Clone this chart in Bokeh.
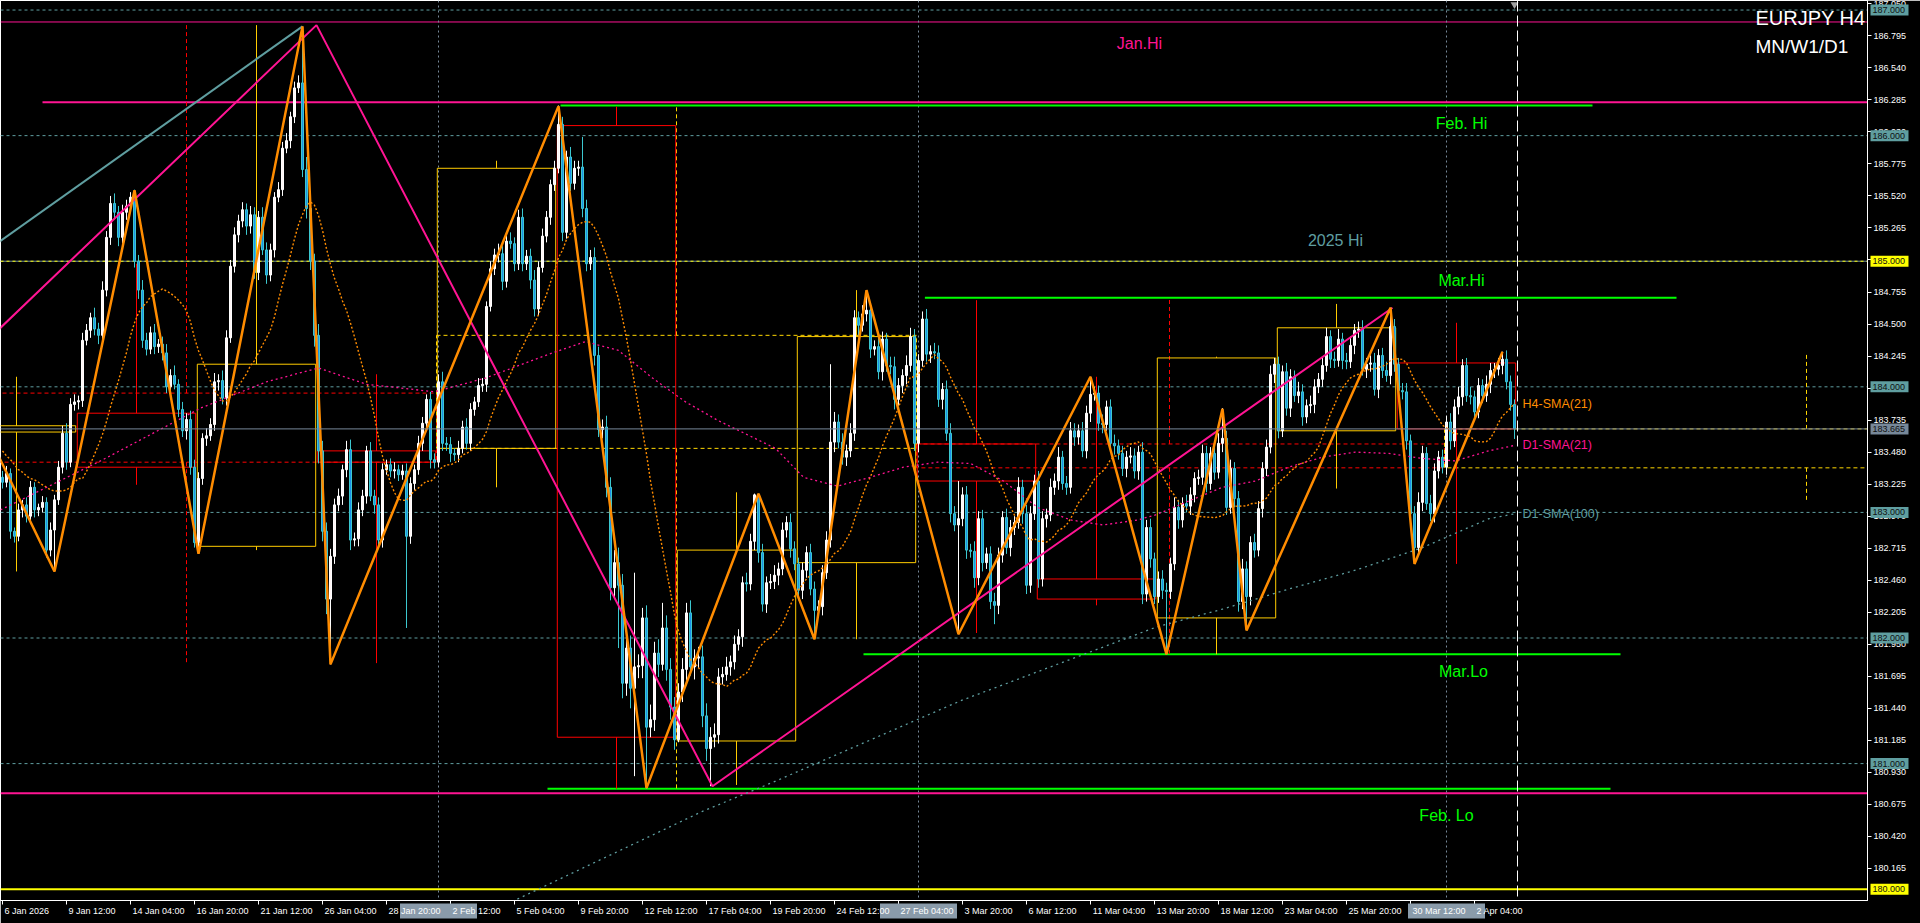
import numpy as np
from bokeh.plotting import figure
from bokeh.models import Range1d, FixedTicker, Label, Span, LinearAxis
from bokeh.core.properties import value
from bokeh.embed import file_html
from bokeh.resources import INLINE

FONT = "Liberation Sans"

# ---------------- H4 candles (bar index 0 .. 378) ----------------
first_open = 183.28
closes = [
    183.24, 183.31, 182.85, 182.81, 183.02, 183.06, 182.97, 183.20, 183.02, 183.04,
    183.08, 182.70, 182.86, 183.10, 183.36, 183.63, 183.40, 183.86, 183.88, 183.89,
    184.37, 184.45, 184.55, 184.46, 184.41, 184.77, 185.19, 185.46, 185.39, 185.19,
    185.39, 185.44, 185.51, 185.00, 184.77, 184.37, 184.30, 184.43, 184.32, 184.34,
    184.27, 184.00, 184.09, 184.02, 183.82, 183.65, 183.74, 183.36, 182.76, 183.27,
    183.59, 183.61, 183.70, 184.04, 184.05, 183.91, 184.39, 184.96, 185.21, 185.32,
    185.41, 185.28, 185.37, 184.91, 185.35, 185.09, 184.89, 185.09, 185.51, 185.57,
    185.90, 185.96, 186.15, 186.38, 186.42, 185.73, 185.42, 185.00, 184.41, 183.49,
    182.85, 182.31, 182.65, 183.06, 183.13, 183.34, 183.50, 182.78, 182.79, 183.02,
    183.13, 183.49, 183.13, 183.06, 182.78, 183.34, 183.38, 183.33, 183.34, 183.30,
    183.33, 182.81, 183.23, 183.34, 183.55, 183.71, 183.90, 183.42, 183.40, 184.04,
    183.55, 183.54, 183.47, 183.46, 183.51, 183.68, 183.55, 183.82, 183.88, 184.01,
    184.02, 184.64, 184.94, 185.05, 185.06, 184.84, 185.16, 185.14, 184.98, 185.35,
    184.98, 185.04, 184.85, 184.62, 184.95, 185.20, 185.35, 185.61, 185.74, 186.09,
    185.23, 185.83, 185.62, 185.74, 185.75, 185.42, 184.98, 185.03, 184.25, 183.66,
    183.68, 183.20, 182.40, 182.60, 182.42, 181.64, 181.92, 181.60, 181.77, 181.78,
    182.16, 181.29, 181.35, 181.88, 181.79, 182.08, 181.75, 181.45, 181.19, 181.57,
    181.75, 182.20, 181.77, 181.84, 181.85, 181.38, 181.12, 181.21, 181.23, 181.69,
    181.71, 181.77, 181.81, 181.95, 182.01, 182.44, 182.43, 182.77, 183.14, 182.68,
    182.27, 182.44, 182.45, 182.50, 182.55, 182.86, 182.92, 182.71, 182.59, 182.38,
    182.54, 182.68, 182.39, 182.22, 182.25, 182.52, 182.78, 183.56, 183.72, 183.56,
    183.44, 183.49, 183.63, 184.55, 184.49, 184.58, 184.61, 184.30, 184.32, 184.12,
    184.38, 184.17, 184.16, 183.90, 184.01, 184.09, 184.17, 184.40, 183.55, 184.21,
    184.54, 184.26, 184.28, 184.27, 183.90, 183.98, 183.63, 182.99, 182.90, 182.95,
    183.14, 182.70, 182.69, 182.48, 182.95, 182.60, 182.67, 182.29, 182.26, 182.66,
    182.96, 182.72, 182.88, 182.92, 183.20, 182.99, 182.42, 182.99, 183.25, 182.47,
    182.95, 182.98, 183.20, 183.25, 183.44, 183.23, 183.20, 183.65, 183.60, 183.65,
    183.49, 183.79, 183.94, 183.95, 183.71, 183.70, 183.84, 183.55, 183.53, 183.47,
    183.35, 183.44, 183.45, 183.33, 183.48, 182.35, 182.88, 182.63, 182.33, 182.47,
    182.38, 182.37, 182.59, 183.04, 182.94, 183.07, 183.05, 183.14, 183.27, 183.28,
    183.47, 183.23, 183.47, 183.32, 183.55, 183.59, 183.04, 183.35, 183.11, 182.29,
    182.55, 182.33, 182.76, 182.70, 183.03, 183.35, 183.52, 184.10, 184.18, 183.65,
    184.12, 183.83, 184.08, 183.93, 183.96, 183.76, 183.85, 183.86, 184.00, 184.06,
    184.17, 184.40, 184.22, 184.21, 184.38, 184.21, 184.20, 184.33, 184.45, 184.46,
    184.14, 184.18, 184.19, 183.98, 184.25, 184.13, 184.09, 184.48, 184.18, 183.97,
    183.96, 183.57, 182.99, 182.72, 183.08, 183.47, 183.07, 182.99, 183.33, 183.44,
    183.36, 183.72, 183.57, 183.84, 183.92, 184.17, 183.93, 183.92, 183.80, 184.01,
    183.93, 184.02, 184.13, 184.14, 184.17, 184.22, 184.04, 183.86, 183.665,
]
# upper / lower shadow lengths (price units) read per bar
wick_up = [
    0.05, 0.06, 0.04, 0.03, 0.05, 0.04, 0.06, 0.05, 0.04, 0.03,
    0.05, 0.04, 0.06, 0.04, 0.05, 0.06, 0.08, 0.05, 0.06, 0.04,
    0.06, 0.05, 0.04, 0.08, 0.05, 0.07, 0.05, 0.06, 0.08, 0.05,
    0.06, 0.05, 0.04, 0.06, 0.05, 0.08, 0.06, 0.05, 0.07, 0.04,
    0.06, 0.07, 0.05, 0.08, 0.04, 0.06, 0.05, 0.07, 0.06, 0.05,
    0.04, 0.06, 0.05, 0.07, 0.05, 0.08, 0.06, 0.05, 0.06, 0.05,
    0.06, 0.05, 0.07, 0.06, 0.05, 0.08, 0.06, 0.05, 0.04, 0.06,
    0.05, 0.06, 0.04, 0.05, 0.06, 0.45, 0.10, 0.08, 0.06, 0.09,
    0.08, 0.07, 0.06, 0.05, 0.06, 0.04, 0.07, 0.08, 0.05, 0.06,
    0.05, 0.04, 0.07, 0.05, 0.06, 0.05, 0.04, 0.05, 0.06, 0.04,
    0.05, 0.06, 0.05, 0.04, 0.06, 0.05, 0.04, 0.06, 0.05, 0.06,
    0.08, 0.05, 0.06, 0.04, 0.06, 0.05, 0.07, 0.05, 0.04, 0.06,
    0.05, 0.04, 0.06, 0.05, 0.08, 0.06, 0.05, 0.07, 0.05, 0.06,
    0.07, 0.05, 0.06, 0.08, 0.05, 0.06, 0.05, 0.04, 0.06, 0.15,
    0.06, 0.05, 0.08, 0.06, 0.05, 0.24, 0.07, 0.06, 0.08, 0.07,
    0.06, 0.09, 0.08, 0.10, 0.12, 0.09, 0.08, 0.10, 0.75, 0.09,
    0.08, 0.10, 0.12, 0.09, 0.11, 0.20, 0.10, 0.09, 0.08, 0.07,
    0.09, 0.08, 0.10, 0.07, 0.08, 0.09, 0.10, 0.08, 0.09, 0.07,
    0.06, 0.08, 0.05, 0.07, 0.06, 0.05, 0.08, 0.06, 0.01, 0.01,
    0.07, 0.05, 0.06, 0.08, 0.05, 0.06, 0.05, 0.07, 0.06, 0.05,
    0.06, 0.05, 0.07, 0.06, 0.05, 0.06, 0.07, 0.62, 0.08, 0.06,
    0.07, 0.05, 0.08, 0.06, 0.05, 0.07, 0.16, 0.06, 0.05, 0.07,
    0.06, 0.05, 0.07, 0.08, 0.06, 0.05, 0.08, 0.07, 0.06, 0.05,
    0.06, 0.08, 0.05, 0.07, 0.06, 0.05, 0.07, 0.08, 0.06, 0.30,
    0.06, 0.07, 0.05, 0.08, 0.06, 0.07, 0.05, 0.06, 0.07, 0.06,
    0.05, 0.07, 0.06, 0.05, 0.08, 0.06, 0.07, 0.06, 0.05, 0.08,
    0.06, 0.05, 0.07, 0.06, 0.08, 0.05, 0.06, 0.07, 0.06, 0.05,
    0.07, 0.06, 0.14, 0.05, 0.06, 0.07, 0.05, 0.06, 0.07, 0.05,
    0.06, 0.05, 0.07, 0.06, 0.05, 0.08, 0.06, 0.07, 0.05, 0.06,
    0.07, 0.06, 0.05, 0.08, 0.06, 0.05, 0.07, 0.06, 0.05, 0.06,
    0.07, 0.06, 0.05, 0.06, 0.08, 0.24, 0.06, 0.07, 0.05, 0.06,
    0.08, 0.06, 0.05, 0.07, 0.06, 0.05, 0.06, 0.07, 0.05, 0.06,
    0.05, 0.07, 0.06, 0.05, 0.08, 0.06, 0.05, 0.07, 0.06, 0.05,
    0.06, 0.07, 0.05, 0.06, 0.08, 0.05, 0.06, 0.07, 0.05, 0.06,
    0.07, 0.05, 0.06, 0.08, 0.05, 0.06, 0.07, 0.15, 0.06, 0.05,
    0.06, 0.07, 0.05, 0.06, 0.08, 0.06, 0.05, 0.07, 0.06, 0.05,
    0.06, 0.05, 0.07, 0.06, 0.08, 0.05, 0.06, 0.07, 0.05, 0.06,
    0.05, 0.07, 0.06, 0.05, 0.06, 0.06, 0.07, 0.05, 0.04,
]
wick_dn = [
    0.05, 0.04, 0.06, 0.05, 0.04, 0.06, 0.05, 0.04, 0.06, 0.05,
    0.04, 0.06, 0.05, 0.33, 0.04, 0.05, 0.06, 0.04, 0.05, 0.06,
    0.05, 0.04, 0.06, 0.05, 0.07, 0.04, 0.05, 0.06, 0.05, 0.07,
    0.05, 0.06, 0.04, 0.05, 0.07, 0.06, 0.05, 0.04, 0.06, 0.05,
    0.06, 0.05, 0.07, 0.04, 0.06, 0.05, 0.07, 0.06, 0.04, 0.09,
    0.05, 0.06, 0.04, 0.05, 0.07, 0.05, 0.06, 0.04, 0.05, 0.06,
    0.05, 0.07, 0.06, 0.05, 0.06, 0.04, 0.07, 0.05, 0.06, 0.04,
    0.05, 0.04, 0.06, 0.05, 0.04, 0.06, 0.08, 0.07, 0.09, 0.10,
    0.08, 0.12, 0.52, 0.06, 0.05, 0.07, 0.06, 0.08, 0.05, 0.06,
    0.05, 0.06, 0.04, 0.07, 0.05, 0.06, 0.04, 0.05, 0.06, 0.05,
    0.04, 0.73, 0.06, 0.05, 0.04, 0.06, 0.05, 0.07, 0.05, 0.04,
    0.06, 0.05, 0.07, 0.05, 0.06, 0.04, 0.05, 0.06, 0.05, 0.04,
    0.05, 0.06, 0.04, 0.05, 0.06, 0.07, 0.05, 0.04, 0.06, 0.05,
    0.06, 0.05, 0.07, 0.06, 0.05, 0.04, 0.05, 0.06, 0.05, 0.04,
    0.07, 0.05, 0.06, 0.05, 0.06, 0.07, 0.06, 0.05, 0.08, 0.06,
    0.07, 0.08, 0.10, 0.09, 0.50, 0.12, 0.10, 0.16, 0.70, 0.09,
    0.10, 0.49, 0.08, 0.09, 0.10, 0.05, 0.09, 0.10, 0.08, 0.02,
    0.08, 0.09, 0.07, 0.10, 0.08, 0.09, 0.10, 0.30, 0.08, 0.07,
    0.06, 0.05, 0.07, 0.06, 0.05, 0.08, 0.06, 0.05, 0.07, 0.08,
    0.06, 0.07, 0.05, 0.06, 0.08, 0.05, 0.06, 0.07, 0.05, 0.08,
    0.07, 0.06, 0.05, 0.23, 0.06, 0.07, 0.05, 0.06, 0.08, 0.05,
    0.06, 0.07, 0.05, 0.06, 0.08, 0.05, 0.06, 0.07, 0.05, 0.06,
    0.07, 0.05, 0.06, 0.08, 0.05, 0.06, 0.07, 0.05, 0.06, 0.07,
    0.05, 0.06, 0.07, 0.05, 0.06, 0.08, 0.06, 0.07, 0.05, 0.87,
    0.06, 0.07, 0.05, 0.08, 0.06, 0.07, 0.05, 0.06, 0.15, 0.07,
    0.06, 0.05, 0.07, 0.06, 0.05, 0.08, 0.07, 0.06, 0.05, 0.07,
    0.06, 0.07, 0.05, 0.06, 0.07, 0.05, 0.06, 0.05, 0.07, 0.06,
    0.05, 0.06, 0.07, 0.05, 0.06, 0.07, 0.05, 0.06, 0.07, 0.05,
    0.06, 0.07, 0.05, 0.06, 0.07, 0.08, 0.06, 0.07, 0.06, 0.05,
    0.07, 0.50, 0.06, 0.05, 0.07, 0.06, 0.05, 0.07, 0.06, 0.05,
    0.06, 0.07, 0.05, 0.06, 0.05, 0.07, 0.06, 0.05, 0.07, 0.08,
    0.06, 0.27, 0.07, 0.06, 0.05, 0.07, 0.06, 0.05, 0.07, 0.06,
    0.05, 0.06, 0.07, 0.05, 0.06, 0.07, 0.05, 0.06, 0.07, 0.05,
    0.06, 0.05, 0.07, 0.06, 0.05, 0.07, 0.06, 0.05, 0.07, 0.06,
    0.05, 0.07, 0.06, 0.05, 0.07, 0.06, 0.05, 0.07, 0.06, 0.05,
    0.06, 0.07, 0.05, 0.13, 0.06, 0.07, 0.05, 0.06, 0.07, 0.06,
    0.05, 0.06, 0.07, 0.05, 0.06, 0.07, 0.05, 0.06, 0.07, 0.05,
    0.06, 0.05, 0.07, 0.06, 0.05, 0.07, 0.06, 0.05, 0.08,
]

# H4-SMA(21): values read for the first 20 bars (history before the chart)
h4_sma_head = [183.49, 183.45, 183.42, 183.38, 183.34, 183.32, 183.29, 183.27, 183.26, 183.24,
               183.22, 183.20, 183.18, 183.17, 183.17, 183.17, 183.18, 183.20, 183.24, 183.27]

# D1-SMA(21) and D1-SMA(100) as read (bar index, price)
d1_sma21_idx = [-0.5, 24.5, 49.5, 66, 79, 91, 97, 108, 120.75, 137.5, 145.75, 154, 162.5, 170.75,
                179, 193.25, 200.25, 208.75, 217, 225.25, 233.75, 242, 250.25, 258.75, 267,
                275.25, 283.75, 288.25, 296.5, 305, 313.25, 321.5, 330, 338.25, 346.5, 355,
                363.25, 371.5, 378.25]
d1_sma21_px = [183.02, 183.41, 183.83, 184.04, 184.15, 184.02, 184.00, 183.96, 184.07, 184.27,
               184.36, 184.29, 184.07, 183.88, 183.73, 183.51, 183.28, 183.21, 183.28, 183.36,
               183.40, 183.39, 183.25, 183.04, 182.94, 182.90, 182.94, 182.98, 183.09, 183.20,
               183.25, 183.36, 183.44, 183.48, 183.47, 183.43, 183.41, 183.49, 183.535]
d1_sma100_idx = [126, 175, 193.25, 239.5, 288.25, 305, 321.6, 338.25, 355, 371.6, 378.25]
d1_sma100_px = [179.88, 180.62, 180.86, 181.50, 182.085, 182.23, 182.39, 182.54, 182.72, 182.95, 182.99]

# ZigZag turning points (bar index, price)
zz_h4_idx = [-1, 13, 33, 49, 75, 82, 139, 161, 189, 203, 216, 239, 272, 291, 305, 311, 347, 353, 375]
zz_h4_px = [183.45, 182.53, 185.565, 182.67, 186.87, 181.79, 186.235, 180.805, 183.15, 181.99,
            184.77, 182.03, 184.08, 181.87, 183.825, 182.06, 184.63, 182.59, 184.28]
zz_d1_idx = [-1, 78.5, 177.5, 347.5]
zz_d1_px = [184.455, 186.88, 180.82, 184.63]
zz_w1_idx = [-1, 75]
zz_w1_px = [185.15, 186.87]

# W1 candles (first / last H4 bar of each week)
w1_start = [-11, 19, 49, 79, 109, 139, 169, 199, 229, 259, 289, 319, 349]
w1_end = [18, 48, 78, 108, 138, 168, 198, 228, 258, 288, 318, 348, 378]
w1_open = [183.64, 183.79, 182.73, 183.49, 183.51, 186.08, 181.18, 182.60, 183.545, 182.47, 182.16, 183.65, 184.19]
w1_close = [183.69, 183.36, 184.18, 183.40, 185.74, 181.21, 182.70, 184.40, 183.25, 182.31, 184.23, 184.47, 183.665]
w1_high = [184.08, 184.98, 186.88, 184.10, 185.80, 186.23, 183.16, 184.77, 184.69, 184.08, 184.24, 184.66, 184.51]
w1_low = [182.53, 183.22, 182.70, 181.80, 183.20, 180.80, 180.83, 181.99, 182.04, 182.26, 181.87, 183.19, 182.59]

# MN candles (Jan, Feb, Mar, Apr)
mn_start = [-17.5, 108.5, 228.5, 360.5]
mn_end = [108.5, 228.5, 360.5, 500.0]
mn_open = [183.95, 183.51, 183.545, 183.355]
mn_close = [183.40, 184.41, 183.355, 183.665]
mn_high = [186.88, 186.23, 184.70, 184.27]
mn_low = [181.80, 180.80, 181.87, 183.10]
mn_wick_idx = [46.0, 168.5, 291.75, 451.0]

# month separators (first bar of Feb, Mar, Apr)
month_sep_idx = [109, 229, 361]

# horizontal levels
round_levels = [187.0, 186.0, 184.0, 183.0, 182.0, 181.0]
jan_hi_level = 186.905
pink_level = 186.265
pink_level_from = 10
pink_low_level = 180.764
hi2025_level = 185.0
round_180 = 180.0
bid_price = 183.665

green_px = [186.24, 184.71, 181.87, 180.80]
green_from = [139.5, 230.6, 215.25, 136.25]
green_to = [397.5, 418.5, 404.5, 402.0]

level_text = ["Jan.Hi", "2025 Hi", "Feb. Hi", "Mar.Hi", "Mar.Lo", "Feb. Lo"]
level_text_idx = [284.25, 333.25, 364.75, 364.75, 365.25, 361.0]
level_text_px = [186.73, 185.165, 186.10, 184.85, 181.73, 180.59]
level_text_col = ["#FF1493", "#5F9EA0", "#00FF00", "#00FF00", "#00FF00", "#00FF00"]

# axes
x_tick_idx = [0, 16, 32, 48, 64, 80, 96, 112, 128, 144, 160, 176, 192, 208, 224, 240,
              256, 272, 288, 304, 320, 336, 352, 368]
x_tick_labels = ["6 Jan 2026", "9 Jan 12:00", "14 Jan 04:00", "16 Jan 20:00", "21 Jan 12:00",
                 "26 Jan 04:00", "28 Jan 20:00", "2 Feb 12:00", "5 Feb 04:00", "9 Feb 20:00",
                 "12 Feb 12:00", "17 Feb 04:00", "19 Feb 20:00", "24 Feb 12:00", "27 Feb 04:00",
                 "3 Mar 20:00", "6 Mar 12:00", "11 Mar 04:00", "13 Mar 20:00", "18 Mar 12:00",
                 "23 Mar 04:00", "25 Mar 20:00", "30 Mar 12:00", "2 Apr 04:00"]
y_ticks = [180.165, 180.420, 180.675, 180.930, 181.185, 181.440, 181.695, 181.950, 182.205,
           182.460, 182.715, 182.970, 183.225, 183.480, 183.735, 183.990, 184.245, 184.500,
           184.755, 185.010, 185.265, 185.520, 185.775, 186.030, 186.285, 186.540, 186.795, 187.050]
y_tick_labels = ["180.165", "180.420", "180.675", "180.930", "181.185", "181.440", "181.695",
                 "181.950", "182.205", "182.460", "182.715", "182.970", "183.225", "183.480",
                 "183.735", "183.990", "184.245", "184.500", "184.755", "185.010", "185.265",
                 "185.520", "185.775", "186.030", "186.285", "186.540", "186.795", "187.050"]
box_px = [187.0, 186.0, 185.0, 184.0, 183.665, 183.0, 182.0, 181.0, 180.0]
box_txt = ["187.000", "186.000", "185.000", "184.000", "183.665", "183.000", "182.000", "181.000", "180.000"]
box_bg = ["#5F9EA0", "#5F9EA0", "#FFFF00", "#5F9EA0", "#778899", "#5F9EA0", "#5F9EA0", "#5F9EA0", "#FFFF00"]

# ---------------- figure ----------------
FW, FH = 1867, 900
XMIN, XMAX = -0.5, 466.25
YMIN, YMAX = 179.91, 187.076
PX_PER_BAR = FW / (XMAX - XMIN)
PX_PER_PRICE = FH / (YMAX - YMIN)

p = figure(frame_width=FW, frame_height=FH,
           x_range=Range1d(XMIN, XMAX), y_range=Range1d(YMIN, YMAX),
           y_axis_location="right", output_backend="svg", toolbar_location=None,
           background_fill_color="black", border_fill_color="black",
           outline_line_color="white",
           min_border_left=0, min_border_top=0, min_border_right=53, min_border_bottom=23)
p.grid.visible = False

# price scale
yax = p.yaxis[0]
yax.ticker = FixedTicker(ticks=y_ticks)
yax.major_label_overrides = {t: s for t, s in zip(y_ticks, y_tick_labels)}
yax.axis_line_color = "white"
yax.major_tick_line_color = "white"
yax.major_tick_in = 0
yax.major_tick_out = 4
yax.minor_tick_line_color = None
yax.major_label_text_color = "white"
yax.major_label_text_font = FONT
yax.major_label_text_font_size = "9px"
yax.major_label_standoff = 2

# time scale: tick marks
xax = p.xaxis[0]
xax.ticker = FixedTicker(ticks=x_tick_idx)
xax.major_label_overrides = {t: "" for t in x_tick_idx}
xax.major_label_text_font_size = "1px"
xax.major_label_standoff = 0
xax.axis_line_color = "white"
xax.major_tick_line_color = "white"
xax.major_tick_in = 0
xax.major_tick_out = 4
xax.minor_tick_line_color = None
xax.minor_tick_out = 0

# time scale: period-separator boxes (wide ticks, no extent of their own)
sep_ax = LinearAxis(ticker=FixedTicker(ticks=month_sep_idx), axis_line_color=None,
                    major_tick_line_color="#8A9BAA", major_tick_line_width=int(round(19.2 * PX_PER_BAR)),
                    major_tick_in=-14, major_tick_out=-1, minor_tick_line_color=None, minor_tick_out=0,
                    major_label_text_font_size="1px", major_label_standoff=0)
sep_ax.major_label_overrides = {t: "" for t in month_sep_idx}
p.add_layout(sep_ax, "below")

# time scale: labels, left-aligned next to their tick as the terminal draws them
AW = {" ": 278, ":": 278, "J": 500, "F": 611, "M": 833, "A": 667, "r": 333}
label_centers = [round(t + (2 + sum(AW.get(ch, 556) for ch in s) * 9 / 1000.0 / 2) / PX_PER_BAR, 3)
                 for t, s in zip(x_tick_idx, x_tick_labels)]
lab_ax = LinearAxis(ticker=FixedTicker(ticks=label_centers), axis_line_color=None,
                    major_tick_line_color=None, major_tick_in=0, major_tick_out=0,
                    minor_tick_line_color=None, minor_tick_out=0,
                    major_label_text_color="white", major_label_text_font=FONT,
                    major_label_text_font_size="9px", major_label_standoff=1)
lab_ax.major_label_overrides = {t: s for t, s in zip(label_centers, x_tick_labels)}
p.add_layout(lab_ax, "below")

# horizontal levels
for lv in round_levels:
    p.add_layout(Span(location=lv, dimension="width", line_color="#5F9EA0", line_dash="3 3",
                      line_width=1, level="underlay"))
p.add_layout(Span(location=hi2025_level, dimension="width", line_color="#6F8FA0", line_width=1, level="underlay"))
p.add_layout(Span(location=hi2025_level, dimension="width", line_color="#FFFF00", line_dash="3 3",
                  line_width=1, level="underlay"))
p.add_layout(Span(location=jan_hi_level, dimension="width", line_color="#FF1493", line_width=1, level="underlay"))
p.add_layout(Span(location=pink_low_level, dimension="width", line_color="#FF1493", line_width=2, level="underlay"))
p.add_layout(Span(location=round_180, dimension="width", line_color="#FFFF00", line_width=2, level="underlay"))
for sx in month_sep_idx:
    p.add_layout(Span(location=sx, dimension="height", line_color="#778899", line_dash="2 3",
                      line_width=1, level="underlay"))

p.segment(x0=[pink_level_from], x1=[XMAX], y0=[pink_level], y1=[pink_level],
          line_color="#FF1493", line_width=2)
p.segment(x0=green_from, x1=green_to, y0=green_px, y1=green_px, line_color="#00FF00", line_width=2)

# MN candles (dashed)
mo, mc = np.array(mn_open), np.array(mn_close)
mn_col = ["#FFD700" if c >= o else "#FF0000" for o, c in zip(mn_open, mn_close)]
mtop, mbot = np.maximum(mo, mc), np.minimum(mo, mc)
p.quad(left=mn_start, right=mn_end, top=mtop, bottom=mbot, fill_color=None,
       line_color=mn_col, line_dash="4 3", line_width=1)
p.segment(x0=mn_wick_idx, x1=mn_wick_idx, y0=mtop, y1=mn_high, line_color=mn_col, line_dash="4 3")
p.segment(x0=mn_wick_idx, x1=mn_wick_idx, y0=mbot, y1=mn_low, line_color=mn_col, line_dash="4 3")

# W1 candles (solid)
ws, we = np.array(w1_start, float), np.array(w1_end, float)
wo, wc = np.array(w1_open), np.array(w1_close)
w_col = ["#FFCC00" if c >= o else "#FF0000" for o, c in zip(w1_open, w1_close)]
wtop, wbot = np.maximum(wo, wc), np.minimum(wo, wc)
wx = (ws + we) / 2.0
p.quad(left=ws - 0.3, right=we + 0.3, top=wtop, bottom=wbot, fill_color=None, line_color=w_col, line_width=1)
p.segment(x0=wx, x1=wx, y0=wtop, y1=w1_high, line_color=w_col)
p.segment(x0=wx, x1=wx, y0=wbot, y1=w1_low, line_color=w_col)

# bid line
p.add_layout(Span(location=bid_price, dimension="width", line_color="#778899", line_width=1, level="glyph"))

# candles
n = len(closes)
assert len(wick_up) == n and len(wick_dn) == n
idx = np.arange(n, dtype=float)
c = np.array(closes)
o = np.array([first_open] + closes[:-1])
hi = np.maximum(o, c) + np.array(wick_up)
lo = np.minimum(o, c) - np.array(wick_dn)
bull = c >= o
bear = ~bull
p.segment(x0=idx[bull], x1=idx[bull], y0=lo[bull], y1=hi[bull], line_color="white", line_width=1)
p.segment(x0=idx[bear], x1=idx[bear], y0=lo[bear], y1=hi[bear], line_color="#3CC8D0", line_width=1)
p.vbar(x=idx[bull], width=0.5, top=c[bull], bottom=o[bull], fill_color="#FFF5F5", line_color="white")
p.vbar(x=idx[bear], width=0.5, top=o[bear], bottom=c[bear], fill_color="#1C8FE8", line_color="#3CC8D0")

# moving averages
h4_sma = list(h4_sma_head) + [float(np.mean(c[i - 20:i + 1])) for i in range(20, n)]
p.line(idx, h4_sma, line_color="#FF8C00", line_dash="2 2", line_width=1.4)
p.line(d1_sma21_idx, d1_sma21_px, line_color="#FF1493", line_dash="2 3", line_width=1.3)
p.line(d1_sma100_idx, d1_sma100_px, line_color="#5F9EA0", line_dash="2 4", line_width=1.3)

# zigzags
p.line(zz_w1_idx, zz_w1_px, line_color="#5F9EA0", line_width=2)
p.line(zz_d1_idx, zz_d1_px, line_color="#FF1493", line_width=2)
p.line(zz_h4_idx, zz_h4_px, line_color="#FF8C00", line_width=2.5)

# shift line after last bar, with its small marker at the top
shift_x = n - 1 + 0.75
p.add_layout(Span(location=shift_x, dimension="height", line_color="white", line_dash="11 4", line_width=1))
p.scatter(x=[shift_x - 0.75], y=[YMAX - 4.0 / PX_PER_PRICE], marker="inverted_triangle", size=8,
          fill_color="#A0A0A0", line_color=None)

# level texts
for t, xi, yp, col in zip(level_text, level_text_idx, level_text_px, level_text_col):
    p.add_layout(Label(x=xi, y=yp, text=t, text_color=col, text_font=FONT, text_font_size="16px",
                       text_align="center", text_baseline="middle"))

# SMA labels at the last values
sma_names = ["H4-SMA(21)", "D1-SMA(21)", "D1-SMA(100)"]
sma_last = [h4_sma[-1], d1_sma21_px[-1], d1_sma100_px[-1]]
sma_cols = ["#FF8C00", "#FF1493", "#5F9EA0"]
for t, yp, col in zip(sma_names, sma_last, sma_cols):
    p.add_layout(Label(x=n + 1, y=yp, text=t, text_color=col, text_font=FONT, text_font_size="12.5px",
                       text_align="left", text_baseline="middle"))

# title
p.add_layout(Label(x=1755, y=FH - 17, x_units="screen", y_units="screen", text="EURJPY H4",
                   text_color="white", text_font=FONT, text_font_size="20px", text_baseline="middle"))
p.add_layout(Label(x=1755, y=FH - 46, x_units="screen", y_units="screen", text="MN/W1/D1",
                   text_color="white", text_font=FONT, text_font_size="19px", text_baseline="middle"))

# price tags on the price scale (drawn on top, outside the frame)
box_x = [XMAX + 22.0 / PX_PER_BAR] * len(box_px)
r_box = p.rect(x=box_x, y=box_px, width=38, height=11, width_units="screen", height_units="screen",
               fill_color=box_bg, line_color=None)
r_box.level = "overlay"
r_txt = p.text(x=[XMAX] * len(box_px), y=box_px, text=box_txt, x_offset=5, text_align="left",
               text_baseline="middle", text_font=value(FONT), text_font_size="9px", text_color="#101010")
r_txt.level = "overlay"

open("out.html", "w").write(file_html(p, INLINE))
